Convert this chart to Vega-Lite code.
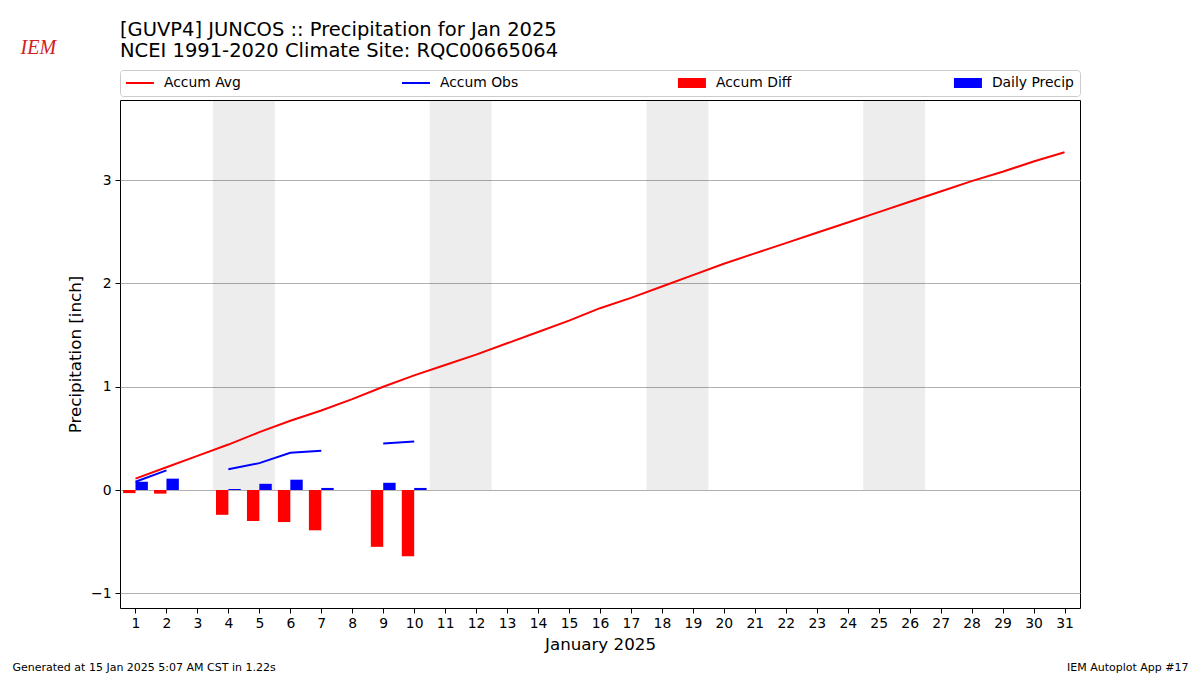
{
  "$schema": "https://vega.github.io/schema/vega-lite/v6.json",
  "width": 960,
  "height": 508,
  "autosize": {"type": "none"},
  "padding": {"left": 120, "top": 100, "right": 120, "bottom": 67},
  "background": "white",
  "title": {
    "text": ["[GUVP4] JUNCOS :: Precipitation for Jan 2025", "NCEI 1991-2020 Climate Site: RQC00665064"],
    "anchor": "start",
    "frame": "group",
    "font": "DejaVu Sans",
    "fontSize": 19.5,
    "fontWeight": "normal",
    "color": "black",
    "lineHeight": 21,
    "offset": -24
  },
  "config": {
    "font": "DejaVu Sans",
    "view": {"stroke": "black", "strokeWidth": 1},
    "axis": {
      "labelFont": "DejaVu Sans",
      "titleFont": "DejaVu Sans",
      "labelColor": "black",
      "titleColor": "black",
      "titleFontWeight": "normal"
    },
    "legend": {
      "orient": "none",
      "legendX": 0,
      "legendY": -30,
      "direction": "horizontal",
      "columns": 4,
      "gridAlign": "all",
      "columnPadding": 155,
      "symbolSize": 100,
      "labelFont": "DejaVu Sans",
      "labelFontSize": 13.9,
      "labelColor": "black",
      "labelOffset": 24,
      "padding": 6,
      "fillColor": "white",
      "strokeColor": "#cccccc",
      "cornerRadius": 3
    }
  },
  "datasets": {
    "daily": [
      {"day": 1, "avg": 0.11, "obs": 0.08, "diff": -0.03, "precip": 0.08, "seg": "a"},
      {"day": 2, "avg": 0.22, "obs": 0.19, "diff": -0.035, "precip": 0.11, "seg": "a"},
      {"day": 3, "avg": 0.33, "obs": null, "diff": null, "precip": null, "seg": null},
      {"day": 4, "avg": 0.44, "obs": 0.20, "diff": -0.24, "precip": 0.01, "seg": "b"},
      {"day": 5, "avg": 0.56, "obs": 0.26, "diff": -0.30, "precip": 0.06, "seg": "b"},
      {"day": 6, "avg": 0.67, "obs": 0.36, "diff": -0.31, "precip": 0.10, "seg": "b"},
      {"day": 7, "avg": 0.77, "obs": 0.38, "diff": -0.39, "precip": 0.02, "seg": "b"},
      {"day": 8, "avg": 0.88, "obs": null, "diff": null, "precip": null, "seg": null},
      {"day": 9, "avg": 1.00, "obs": 0.45, "diff": -0.55, "precip": 0.07, "seg": "c"},
      {"day": 10, "avg": 1.11, "obs": 0.47, "diff": -0.64, "precip": 0.02, "seg": "c"},
      {"day": 11, "avg": 1.21, "obs": null, "diff": null, "precip": null, "seg": null},
      {"day": 12, "avg": 1.31, "obs": null, "diff": null, "precip": null, "seg": null},
      {"day": 13, "avg": 1.42, "obs": null, "diff": null, "precip": null, "seg": null},
      {"day": 14, "avg": 1.53, "obs": null, "diff": null, "precip": null, "seg": null},
      {"day": 15, "avg": 1.64, "obs": null, "diff": null, "precip": null, "seg": null},
      {"day": 16, "avg": 1.76, "obs": null, "diff": null, "precip": null, "seg": null},
      {"day": 17, "avg": 1.86, "obs": null, "diff": null, "precip": null, "seg": null},
      {"day": 18, "avg": 1.97, "obs": null, "diff": null, "precip": null, "seg": null},
      {"day": 19, "avg": 2.08, "obs": null, "diff": null, "precip": null, "seg": null},
      {"day": 20, "avg": 2.19, "obs": null, "diff": null, "precip": null, "seg": null},
      {"day": 21, "avg": 2.29, "obs": null, "diff": null, "precip": null, "seg": null},
      {"day": 22, "avg": 2.39, "obs": null, "diff": null, "precip": null, "seg": null},
      {"day": 23, "avg": 2.49, "obs": null, "diff": null, "precip": null, "seg": null},
      {"day": 24, "avg": 2.59, "obs": null, "diff": null, "precip": null, "seg": null},
      {"day": 25, "avg": 2.69, "obs": null, "diff": null, "precip": null, "seg": null},
      {"day": 26, "avg": 2.79, "obs": null, "diff": null, "precip": null, "seg": null},
      {"day": 27, "avg": 2.89, "obs": null, "diff": null, "precip": null, "seg": null},
      {"day": 28, "avg": 2.99, "obs": null, "diff": null, "precip": null, "seg": null},
      {"day": 29, "avg": 3.08, "obs": null, "diff": null, "precip": null, "seg": null},
      {"day": 30, "avg": 3.18, "obs": null, "diff": null, "precip": null, "seg": null},
      {"day": 31, "avg": 3.27, "obs": null, "diff": null, "precip": null, "seg": null}
    ],
    "weekends": [
      {"from": 3.5, "to": 5.5},
      {"from": 10.5, "to": 12.5},
      {"from": 17.5, "to": 19.5},
      {"from": 24.5, "to": 26.5}
    ]
  },
  "resolve": {"axis": {"x": "independent", "y": "independent"}},
  "layer": [
    {
      "data": {"name": "weekends"},
      "mark": {"type": "rect", "fill": "#000000", "opacity": 0.07},
      "encoding": {
        "x": {
          "field": "from",
          "type": "quantitative",
          "scale": {"domain": [0.5, 31.5], "nice": false, "zero": false, "padding": 0},
          "axis": {
            "orient": "bottom",
            "values": [1,2,3,4,5,6,7,8,9,10,11,12,13,14,15,16,17,18,19,20,21,22,23,24,25,26,27,28,29,30,31],
            "grid": false,
            "domain": false,
            "ticks": true,
            "tickSize": 5,
            "tickColor": "black",
            "labelFontSize": 13.9,
            "labelPadding": 3,
            "labelFlush": false,
            "labelOverlap": false,
            "title": "January 2025",
            "titleFontSize": 16.7,
            "titlePadding": 7
          }
        },
        "x2": {"field": "to"},
        "y": {
          "datum": 0,
          "type": "quantitative",
          "scale": {"domain": [-1.142, 3.775], "nice": false, "zero": false, "padding": 0},
          "axis": {
            "orient": "left",
            "values": [-1, 0, 1, 2, 3],
            "grid": true,
            "gridColor": "#b0b0b0",
            "gridWidth": 1,
            "domain": false,
            "ticks": true,
            "tickSize": 5,
            "tickColor": "black",
            "labelFontSize": 13.9,
            "labelPadding": 4,
            "labelExpr": "replace(datum.label, '-', '\u2212')",
            "title": "Precipitation [inch]",
            "titleFontSize": 16.7,
            "titlePadding": 6
          }
        },
        "y2": {"datum": 3.775}
      }
    },
    {
      "data": {"name": "daily"},
      "mark": {"type": "line", "strokeWidth": 2},
      "encoding": {
        "x": {
          "field": "day",
          "type": "quantitative",
          "axis": {
            "orient": "bottom",
            "labels": false,
            "ticks": false,
            "domain": false,
            "grid": false,
            "title": "Generated at 15 Jan 2025 5:07 AM CST in 1.22s",
            "titleFontSize": 11,
            "titleAlign": "left",
            "titleBaseline": "alphabetic",
            "titleAnchor": "start",
            "titleX": -108,
            "titleY": 62
          }
        },
        "y": {
          "field": "avg",
          "type": "quantitative",
          "axis": {
            "orient": "right",
            "labels": false,
            "ticks": false,
            "domain": false,
            "grid": false,
            "title": "IEM Autoplot App #17",
            "titleFontSize": 11,
            "titleAngle": 0,
            "titleAlign": "right",
            "titleBaseline": "alphabetic",
            "titleX": 108,
            "titleY": 570
          }
        },
        "color": {
          "datum": "Accum Avg",
          "type": "nominal",
          "scale": {
            "domain": ["Accum Avg", "Accum Obs", "Accum Diff", "Daily Precip"],
            "range": ["#ff0000", "#0000ff", "#ff0000", "#0000ff"]
          },
          "legend": {
            "title": null,
            "encode": {
              "symbols": {
                "update": {
                  "shape": {"signal": "indexof(['Accum Avg','Accum Obs'], datum.value) >= 0 ? 'M-1.4,-0.2H4.2V0.2H-1.4Z' : 'M-1.4,-1H4.2V1H-1.4Z'"},
                  "fill": {"signal": "scale('color', datum.value)"},
                  "stroke": {"value": "transparent"},
                  "strokeWidth": {"value": 0},
                  "opacity": {"value": 1}
                }
              }
            }
          }
        }
      }
    },
    {
      "data": {"name": "daily"},
      "transform": [{"filter": "datum.obs != null"}],
      "mark": {"type": "line", "strokeWidth": 2},
      "encoding": {
        "x": {"field": "day", "type": "quantitative", "axis": null},
        "y": {"field": "obs", "type": "quantitative", "axis": null},
        "detail": {"field": "seg", "type": "nominal"},
        "color": {"datum": "Accum Obs", "type": "nominal"}
      }
    },
    {
      "data": {"name": "daily"},
      "transform": [{"filter": "datum.diff != null"}],
      "mark": {"type": "bar", "size": 12.4, "xOffset": -6.2},
      "encoding": {
        "x": {
          "field": "day",
          "type": "quantitative",
          "axis": {
            "orient": "top",
            "labels": false,
            "ticks": false,
            "domain": false,
            "grid": false,
            "title": "IEM",
            "titleFont": "Liberation Serif",
            "titleFontStyle": "italic",
            "titleFontSize": 20,
            "titleColor": "#d42020",
            "titleAlign": "left",
            "titleBaseline": "alphabetic",
            "titleX": -100,
            "titleY": -47
          }
        },
        "y": {"field": "diff", "type": "quantitative", "axis": null},
        "y2": {"datum": 0},
        "color": {"datum": "Accum Diff", "type": "nominal"}
      }
    },
    {
      "data": {"name": "daily"},
      "transform": [{"filter": "datum.precip != null"}],
      "mark": {"type": "bar", "size": 12.4, "xOffset": 6.2},
      "encoding": {
        "x": {"field": "day", "type": "quantitative", "axis": null},
        "y": {"field": "precip", "type": "quantitative", "axis": null},
        "y2": {"datum": 0},
        "color": {"datum": "Daily Precip", "type": "nominal"}
      }
    }
  ]
}
